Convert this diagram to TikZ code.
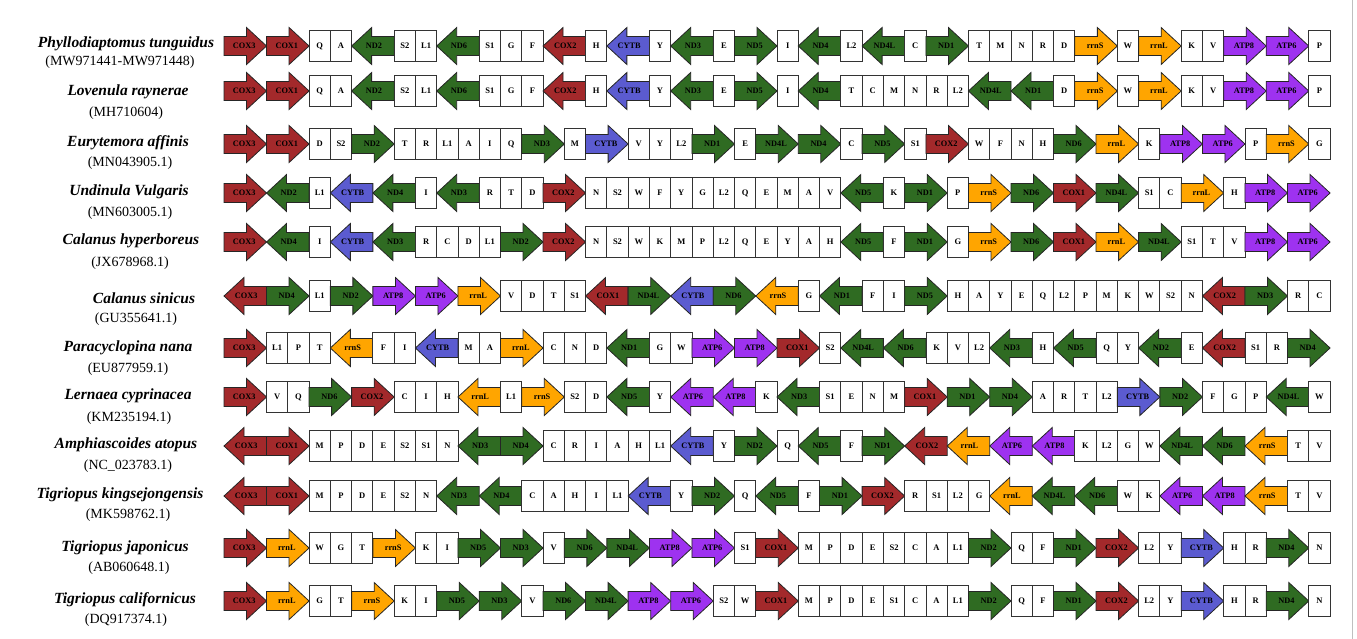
\documentclass[tikz,border=0pt]{standalone}
\usepackage{fontspec}
\setmainfont{Liberation Serif}
\definecolor{coxc}{HTML}{A3292B}
\definecolor{ndc}{HTML}{2F6B22}
\definecolor{cytc}{HTML}{5B5BD0}
\definecolor{rrnc}{HTML}{FFA500}
\definecolor{atpc}{HTML}{9E32F0}
\newcount\gpos
\newcommand\setgc[2]{\expandafter\def\csname gc@#1\endcsname{#2}}
\setgc{COX1}{coxc}\setgc{COX2}{coxc}\setgc{COX3}{coxc}
\setgc{ND1}{ndc}\setgc{ND2}{ndc}\setgc{ND3}{ndc}\setgc{ND4}{ndc}\setgc{ND4L}{ndc}\setgc{ND5}{ndc}\setgc{ND6}{ndc}
\setgc{CYTB}{cytc}\setgc{rrnS}{rrnc}\setgc{rrnL}{rrnc}\setgc{ATP6}{atpc}\setgc{ATP8}{atpc}
\def\uu{21.27}
\def\xo{224}
\def\sh{9.5}
\def\hh{18.5}
\def\hl{20}
\tikzset{
  genebox/.style={draw=black!80, line width=0.8pt, fill=white, minimum width=21.27pt, minimum height=31.5pt, inner sep=0pt, font=\bfseries\fontsize{8.5}{8.5}\selectfont},
  genearrow/.style={draw=black!85, line width=0.8pt, line join=miter},
  glabel/.style={font=\bfseries\fontsize{8.3}{8.3}\selectfont, inner sep=0pt},
  spname/.style={font=\bfseries\itshape\fontsize{15.5}{15.5}\selectfont, inner sep=0pt},
  spcode/.style={font=\fontsize{14}{14}\selectfont, inner sep=0pt},
  frameline/.style={draw=black!25, line width=1pt}
}
\newcommand\generow[3]{%
  \global\gpos=0
  \foreach \t/\l [count=\k] in {#3} {
    \pgfmathsetmacro\xa{\xo+\the\gpos*\uu}
    \edef\gcol{\csname gc@\l\endcsname}
    \if\t r
      \pgfmathsetmacro\xb{\xa+2*\uu}
      \pgfmathsetmacro\xh{\xb-\hl}
      \draw[genearrow, fill=\gcol] (\xa,#2-\sh) -- (\xh,#2-\sh) -- (\xh,#2-\hh) -- (\xb,#2) -- (\xh,#2+\hh) -- (\xh,#2+\sh) -- (\xa,#2+\sh) -- cycle;
      \node[glabel] (#1-\k) at ({(\xa+\xb)/2-1},#2) {\l};
      \global\advance\gpos by 2
    \else\if\t l
      \pgfmathsetmacro\xb{\xa+2*\uu}
      \pgfmathsetmacro\xh{\xa+\hl}
      \draw[genearrow, fill=\gcol] (\xb,#2-\sh) -- (\xh,#2-\sh) -- (\xh,#2-\hh) -- (\xa,#2) -- (\xh,#2+\hh) -- (\xh,#2+\sh) -- (\xb,#2+\sh) -- cycle;
      \node[glabel] (#1-\k) at ({(\xa+\xb)/2+1},#2) {\l};
      \global\advance\gpos by 2
    \else
      \node[genebox] (#1-\k) at (\xa+\uu/2,#2) {\l};
      \global\advance\gpos by 1
    \fi\fi
  }%
}
\begin{document}
\begin{tikzpicture}[x=1pt,y=-1pt]
\useasboundingbox (0,0) rectangle (1357,639);
\fill[white] (0,0) rectangle (1357,639);
\coordinate (ft) at (1352,0);
\coordinate (fb) at (1352,639);
\draw[frameline] (ft) -- (fb);

\node[spname] (n1) at (126,44) {Phyllodiaptomus tunguidus};
\node[spcode] (c1) at (120,62) {(MW971441-MW971448)};
\node[spname] (n2) at (128,92) {Lovenula raynerae};
\node[spcode] (c2) at (126,113) {(MH710604)};
\node[spname] (n3) at (128,143) {Eurytemora affinis};
\node[spcode] (c3) at (130,163) {(MN043905.1)};
\node[spname] (n4) at (129,192) {Undinula Vulgaris};
\node[spcode] (c4) at (130,213) {(MN603005.1)};
\node[spname] (n5) at (131,241) {Calanus hyperboreus};
\node[spcode] (c5) at (130,263) {(JX678968.1)};
\node[spname] (n6) at (144,298) {Calanus sinicus};
\node[spcode] (c6) at (136,319) {(GU355641.1)};
\node[spname] (n7) at (128,348) {Paracyclopina nana};
\node[spcode] (c7) at (128,369) {(EU877959.1)};
\node[spname] (n8) at (128,396) {Lernaea cyprinacea};
\node[spcode] (c8) at (129,418) {(KM235194.1)};
\node[spname] (n9) at (126,445) {Amphiascoides atopus};
\node[spcode] (c9) at (128,466) {(NC\_023783.1)};
\node[spname] (n10) at (120,495) {Tigriopus kingsejongensis};
\node[spcode] (c10) at (128,515) {(MK598762.1)};
\node[spname] (n11) at (125,548) {Tigriopus japonicus};
\node[spcode] (c11) at (129,568) {(AB060648.1)};
\node[spname] (n12) at (125,600) {Tigriopus californicus};
\node[spcode] (c12) at (126,620) {(DQ917374.1)};

\generow{r1}{46}{r/COX3, r/COX1, b/Q, b/A, l/ND2, b/S2, b/L1, l/ND6, b/S1, b/G, b/F, l/COX2, b/H, l/CYTB, b/Y, l/ND3, b/E, r/ND5, b/I, l/ND4, b/L2, l/ND4L, b/C, r/ND1, b/T, b/M, b/N, b/R, b/D, r/rrnS, b/W, r/rrnL, b/K, b/V, r/ATP8, r/ATP6, b/P}
\generow{r2}{91}{r/COX3, r/COX1, b/Q, b/A, l/ND2, b/S2, b/L1, l/ND6, b/S1, b/G, b/F, l/COX2, b/H, l/CYTB, b/Y, l/ND3, b/E, r/ND5, b/I, l/ND4, b/T, b/C, b/M, b/N, b/R, b/L2, l/ND4L, l/ND1, b/D, r/rrnS, b/W, r/rrnL, b/K, b/V, r/ATP8, r/ATP6, b/P}
\generow{r3}{144}{r/COX3, r/COX1, b/D, b/S2, r/ND2, b/T, b/R, b/L1, b/A, b/I, b/Q, r/ND3, b/M, r/CYTB, b/V, b/Y, b/L2, r/ND1, b/E, r/ND4L, r/ND4, b/C, r/ND5, b/S1, r/COX2, b/W, b/F, b/N, b/H, r/ND6, r/rrnL, b/K, r/ATP8, r/ATP6, b/P, r/rrnS, b/G}
\generow{r4}{193}{r/COX3, l/ND2, b/L1, l/CYTB, l/ND4, b/I, l/ND3, b/R, b/T, b/D, r/COX2, b/N, b/S2, b/W, b/F, b/Y, b/G, b/L2, b/Q, b/E, b/M, b/A, b/V, l/ND5, b/K, r/ND1, b/P, r/rrnS, r/ND6, r/COX1, r/ND4L, b/S1, b/C, r/rrnL, b/H, r/ATP8, r/ATP6}
\generow{r5}{242}{r/COX3, l/ND4, b/I, l/CYTB, l/ND3, b/R, b/C, b/D, b/L1, r/ND2, r/COX2, b/N, b/S2, b/W, b/K, b/M, b/P, b/L2, b/Q, b/E, b/Y, b/A, b/H, l/ND5, b/F, r/ND1, b/G, r/rrnS, r/ND6, r/COX1, r/rrnL, r/ND4L, b/S1, b/T, b/V, r/ATP8, r/ATP6}
\generow{r6}{296}{l/COX3, r/ND4, b/L1, r/ND2, r/ATP8, r/ATP6, r/rrnL, b/V, b/D, b/T, b/S1, l/COX1, r/ND4L, l/CYTB, r/ND6, l/rrnS, b/G, l/ND1, b/F, b/I, r/ND5, b/H, b/A, b/Y, b/E, b/Q, b/L2, b/P, b/M, b/K, b/W, b/S2, b/N, l/COX2, r/ND3, b/R, b/C}
\generow{r7}{348}{r/COX3, b/L1, b/P, b/T, l/rrnS, b/F, b/I, l/CYTB, b/M, b/A, r/rrnL, b/C, b/N, b/D, l/ND1, b/G, b/W, r/ATP6, r/ATP8, r/COX1, b/S2, l/ND4L, l/ND6, b/K, b/V, b/L2, l/ND3, b/H, l/ND5, b/Q, b/Y, l/ND2, b/E, l/COX2, b/S1, b/R, r/ND4}
\generow{r8}{397}{r/COX3, b/V, b/Q, r/ND6, r/COX2, b/C, b/I, b/H, l/rrnL, b/L1, r/rrnS, b/S2, b/D, l/ND5, b/Y, l/ATP6, l/ATP8, b/K, l/ND3, b/S1, b/E, b/N, b/M, r/COX1, r/ND1, r/ND4, b/A, b/R, b/T, b/L2, r/CYTB, r/ND2, b/F, b/G, b/P, l/ND4L, b/W}
\generow{r9}{446}{l/COX3, r/COX1, b/M, b/P, b/D, b/E, b/S2, b/S1, b/N, l/ND3, r/ND4, b/C, b/R, b/I, b/A, b/H, b/L1, l/CYTB, b/Y, r/ND2, b/Q, l/ND5, b/F, r/ND1, l/COX2, l/rrnL, l/ATP6, l/ATP8, b/K, b/L2, b/G, b/W, l/ND4L, l/ND6, l/rrnS, b/T, b/V}
\generow{r10}{496}{l/COX3, r/COX1, b/M, b/P, b/D, b/E, b/S2, b/N, l/ND3, l/ND4, b/C, b/A, b/H, b/I, b/L1, l/CYTB, b/Y, r/ND2, b/Q, l/ND5, b/F, r/ND1, r/COX2, b/R, b/S1, b/L2, b/G, l/rrnL, l/ND4L, l/ND6, b/W, b/K, l/ATP6, l/ATP8, l/rrnS, b/T, b/V}
\generow{r11}{548}{r/COX3, r/rrnL, b/W, b/G, b/T, r/rrnS, b/K, b/I, r/ND5, r/ND3, b/V, r/ND6, r/ND4L, r/ATP8, r/ATP6, b/S1, r/COX1, b/M, b/P, b/D, b/E, b/S2, b/C, b/A, b/L1, r/ND2, b/Q, b/F, r/ND1, r/COX2, b/L2, b/Y, r/CYTB, b/H, b/R, r/ND4, b/N}
\generow{r12}{601}{r/COX3, r/rrnL, b/G, b/T, r/rrnS, b/K, b/I, r/ND5, r/ND3, b/V, r/ND6, r/ND4L, r/ATP8, r/ATP6, b/S2, b/W, r/COX1, b/M, b/P, b/D, b/E, b/S1, b/C, b/A, b/L1, r/ND2, b/Q, b/F, r/ND1, r/COX2, b/L2, b/Y, r/CYTB, b/H, b/R, r/ND4, b/N}
\end{tikzpicture}
\end{document}
